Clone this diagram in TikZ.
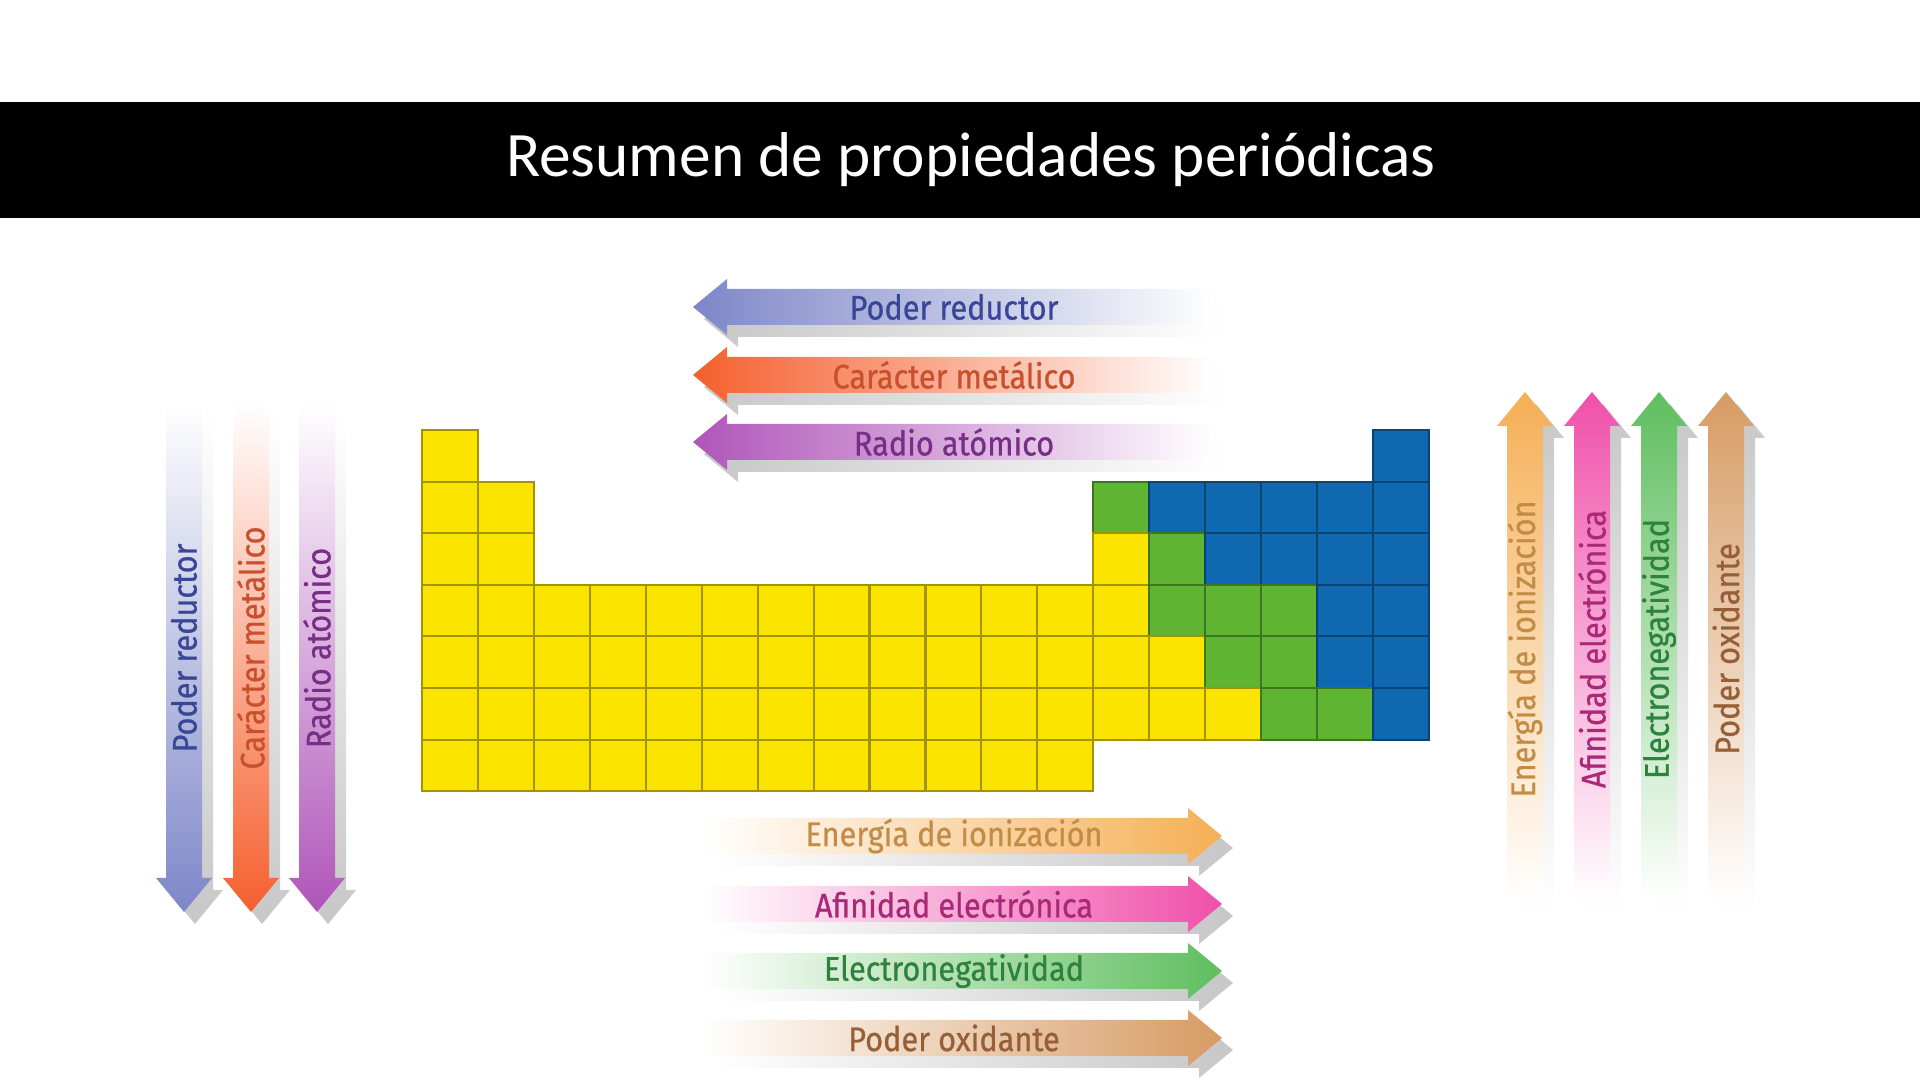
\documentclass[tikz,border=0pt]{standalone}
\usepackage{fontspec}
\setmainfont{Carlito}
\newfontfamily\condfont{Fira Sans}[FakeBold=0.7, FakeStretch=0.9]
\usetikzlibrary{positioning, calc}

\definecolor{yel}{RGB}{250,228,0}
\definecolor{grn}{RGB}{95,180,50}
\definecolor{blu}{RGB}{16,104,176}

\definecolor{redA}{RGB}{125,135,200}   \definecolor{redT}{RGB}{55,70,150}
\definecolor{metA}{RGB}{245,95,45}     \definecolor{metT}{RGB}{200,80,45}
\definecolor{radA}{RGB}{175,85,185}    \definecolor{radT}{RGB}{120,45,135}
\definecolor{ionA}{RGB}{245,175,85}    \definecolor{ionT}{RGB}{195,140,70}
\definecolor{afiA}{RGB}{240,80,170}    \definecolor{afiT}{RGB}{170,40,120}
\definecolor{eneA}{RGB}{95,190,95}     \definecolor{eneT}{RGB}{45,130,60}
\definecolor{oxiA}{RGB}{215,155,100}   \definecolor{oxiT}{RGB}{150,95,55}

% tip, angle, length, fade style, colour
\newcommand{\fadeArrow}[5]{%
  \shade[#4=black!22, shift={(11,12)}, rotate around={#2:#1}] #1 -- ++(34,-28) -- ++(0,10) -- ++(#3-34,0) -- ++(0,36) -- ++(34-#3,0) -- ++(0,10) -- cycle;
  \shade[#4=#5, rotate around={#2:#1}] #1 -- ++(34,-28) -- ++(0,10) -- ++(#3-34,0) -- ++(0,36) -- ++(34-#3,0) -- ++(0,10) -- cycle;
}

\begin{document}
\begin{tikzpicture}[x=0.01cm, y=-0.01cm]
        \tikzstyle{cell}=[draw, inner sep=0, minimum width=0.559cm, minimum height=0.516cm, line width=0.6pt];
        \tikzstyle{lbl}=[font=\condfont\fontsize{9.7}{11}\selectfont, inner sep=1pt];
        \tikzset{toL/.style={left color=#1, right color=white}, toR/.style={left color=white, right color=#1},
                 toD/.style={top color=white, bottom color=#1}, toU/.style={top color=#1, bottom color=white}}

        \useasboundingbox (0,0) rectangle (1920,1080);

        \fill[black] (0,102) rectangle (1920,218);
        \node[text=white, font=\fontsize{18}{22}\selectfont] (title) at (971,160) {Resumen de propiedades periódicas};

        % table
        \foreach \r/\a/\b/\c in {1/1/1/yel, 1/18/18/blu, 2/1/2/yel, 2/13/13/grn, 2/14/18/blu,
                                 3/1/2/yel, 3/13/13/yel, 3/14/14/grn, 3/15/18/blu,
                                 4/1/13/yel, 4/14/16/grn, 4/17/18/blu, 5/1/14/yel, 5/15/16/grn, 5/17/18/blu,
                                 6/1/15/yel, 6/16/17/grn, 6/18/18/blu, 7/1/12/yel}
            \foreach \k in {\a,...,\b}
                \node[cell, fill=\c, draw=\c!65!black] (e\r-\k) at ({422+(\k-0.5)*55.94}, {430+(\r-0.5)*51.6}) {};

        % top arrows
        \fadeArrow{(693,307)}{0}{520}{toL}{redA}
        \fadeArrow{(693,375)}{0}{520}{toL}{metA}
        \fadeArrow{(693,442)}{0}{520}{toL}{radA}
        \node[lbl, text=redT] (hred) at (954,307) {Poder reductor};
        \node[lbl, text=metT] (hmet) at (954,375) {Carácter metálico};
        \node[lbl, text=radT] (hrad) at (954,442) {Radio atómico};

        % bottom arrows
        \fadeArrow{(1222,836)}{180}{518}{toR}{ionA}
        \fadeArrow{(1222,904)}{180}{518}{toR}{afiA}
        \fadeArrow{(1222,971)}{180}{518}{toR}{eneA}
        \fadeArrow{(1222,1038)}{180}{518}{toR}{oxiA}
        \node[lbl, text=ionT] (hion) at (954,836) {Energía de ionización};
        \node[lbl, text=afiT] (hafi) at (954,904) {Afinidad electrónica};
        \node[lbl, text=eneT] (hene) at (954,971) {Electronegatividad};
        \node[lbl, text=oxiT] (hoxi) at (954,1038) {Poder oxidante};

        % left arrows
        \fadeArrow{(184,912)}{90}{508}{toD}{redA}
        \fadeArrow{(251,912)}{90}{508}{toD}{metA}
        \fadeArrow{(317,912)}{90}{508}{toD}{radA}
        \node[lbl, text=redT, rotate=90] (vred) at (184,648) {Poder reductor};
        \node[lbl, text=metT, rotate=90] (vmet) at (251,648) {Carácter metálico};
        \node[lbl, text=radT, rotate=90] (vrad) at (317,648) {Radio atómico};

        % right arrows
        \fadeArrow{(1525,392)}{-90}{508}{toU}{ionA}
        \fadeArrow{(1592,392)}{-90}{508}{toU}{afiA}
        \fadeArrow{(1659,392)}{-90}{508}{toU}{eneA}
        \fadeArrow{(1726,392)}{-90}{508}{toU}{oxiA}
        \node[lbl, text=ionT, rotate=90] (vion) at (1525,649) {Energía de ionización};
        \node[lbl, text=afiT, rotate=90] (vafi) at (1592,649) {Afinidad electrónica};
        \node[lbl, text=eneT, rotate=90] (vene) at (1659,649) {Electronegatividad};
        \node[lbl, text=oxiT, rotate=90] (voxi) at (1726,649) {Poder oxidante};
\end{tikzpicture}
\end{document}
